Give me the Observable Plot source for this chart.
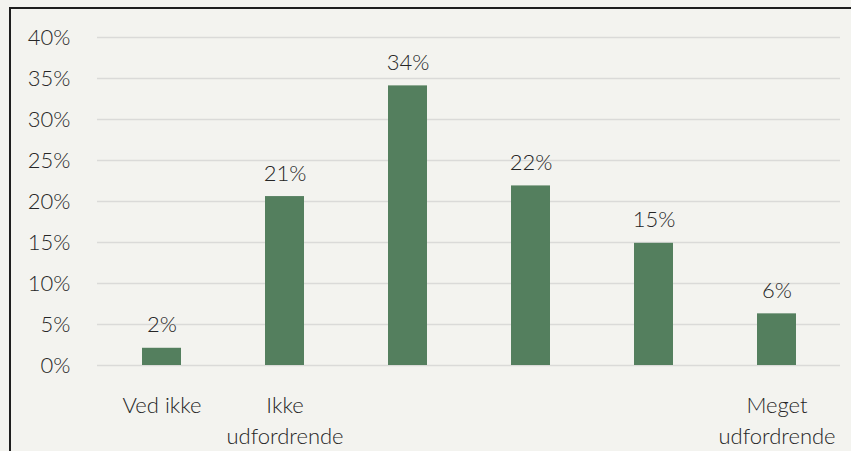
<!DOCTYPE html>
<html>
<head>
<meta charset="utf-8">
<script src="https://cdn.jsdelivr.net/npm/d3@7"></script>
<script src="https://cdn.jsdelivr.net/npm/@observablehq/plot@0.6"></script>
<style>
  html, body { margin: 0; padding: 0; background: #f3f3ef; width: 851px; height: 451px; overflow: hidden; }
  #frame { position: absolute; left: 9px; top: 7px; right: 0; bottom: 0; border-top: 2px solid #1e1e1e; border-left: 2px solid #1e1e1e; }
  #chart { position: absolute; left: 0; top: 0; }
</style>
</head>
<body>
<div id="frame"></div>
<div id="chart"></div>
<script>
const categories = ["Ved ikke", "1", "2", "3", "4", "5"];
const tickLabels = ["Ved ikke", "Ikke\nudfordrende", "", "", "", "Meget\nudfordrende"];
const values = [2.1, 20.6, 34.1, 21.9, 14.9, 6.3];
const yTicks = [0, 5, 10, 15, 20, 25, 30, 35, 40];

const data = categories.map((c, i) => ({cat: c, value: values[i], label: tickLabels[i]}));

const chart = Plot.plot({
  width: 851,
  height: 451,
  marginLeft: 97,
  marginRight: 11,
  marginTop: 37,
  marginBottom: 86,
  style: {background: "transparent", fontFamily: "Lato", fontSize: "22px", fontWeight: 300, color: "#262626"},
  x: {domain: categories, paddingInner: 0.685, paddingOuter: 0.3425, axis: null},
  y: {domain: [0, 40], axis: null},
  marks: [
    Plot.ruleY(yTicks, {stroke: "#dadad8", strokeWidth: 1.5}),
    Plot.axisY({ticks: yTicks, label: null, tickSize: 0, tickPadding: 27, tickFormat: d => d + "%", fontSize: 22, fontWeight: 300, fill: "#262626"}),
    Plot.barY(data, {x: "cat", y: "value", fill: "#547f5e"}),
    Plot.text(data, {x: "cat", y: "value", text: d => Math.round(d.value) + "%", lineAnchor: "bottom", dy: -16, fontSize: 22, fontWeight: 300, fill: "#262626"}),
    Plot.text(data, {x: "cat", y: () => 0, text: "label", lineAnchor: "top", dy: 25, lineHeight: 1.43, fontSize: 22, fontWeight: 300, fill: "#262626"})
  ]
});
document.getElementById("chart").appendChild(chart);
</script>
</body>
</html>
